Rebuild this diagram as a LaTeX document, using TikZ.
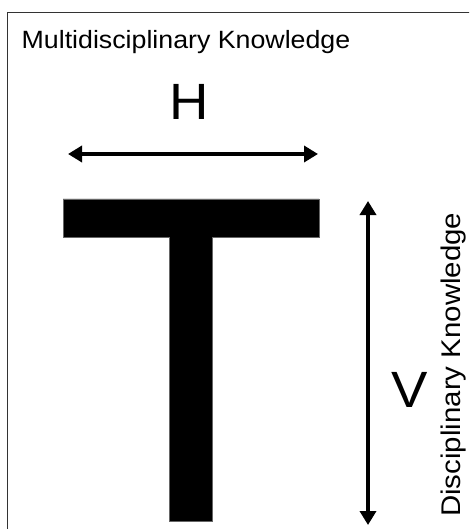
\documentclass[tikz,border=0pt]{standalone}
\usepackage{fontspec}
\setmainfont{Liberation Sans}
\usetikzlibrary{arrows.meta}
\tikzset{
  frameline/.style={draw=black!80, line width=1.5pt},
  barfill/.style={fill=black, draw=black!60, line width=0.6pt},
  dblarrow/.style={line width=4.2pt, {Triangle[width=16pt,length=14pt]}-{Triangle[width=16pt,length=14pt]}},
  bigletter/.style={inner sep=0pt, font=\fontsize{51}{51}\selectfont},
  labeltext/.style={inner sep=0pt}
}
\begin{document}
\begin{tikzpicture}[x=1pt,y=-1pt]
\useasboundingbox (0,0) rectangle (469,529);
\clip (0,0) rectangle (469,529);
\fill[white] (0,0) rectangle (469,529);
% frame
\draw[frameline] (7.5,12.5) rectangle (480,540);
% title
\node[labeltext, anchor=base west, font=\fontsize{25}{25}\selectfont] (title) at (21.5,48.5) {\scalebox{1.07}[1]{Multidisciplinary Knowledge}};
% H
\node[bigletter, anchor=base] (H) at (188.8,120) {\scalebox{1.07}[1]{H}};
% horizontal arrow
\coordinate (hl) at (68,154);
\coordinate (hr) at (318,154);
\draw[dblarrow] (hl) -- (hr);
% T shape
\path[barfill] (63,199) -- (319,199) -- (319,237) -- (212,237) -- (212,521)
   -- (169.5,521) -- (169.5,237) -- (63,237) -- cycle;
% vertical arrow
\coordinate (vt) at (368,201);
\coordinate (vb) at (368,525);
\draw[dblarrow] (vt) -- (vb);
% V
\node[bigletter, anchor=base] (V) at (410,407) {\scalebox{1.07}[1]{V}};
% vertical label
\node[labeltext, anchor=base west, rotate=90, font=\fontsize{27}{27}\selectfont] (disc) at (460,517) {\scalebox{1.09}[1]{Disciplinary Knowledge}};
\end{tikzpicture}
\end{document}
